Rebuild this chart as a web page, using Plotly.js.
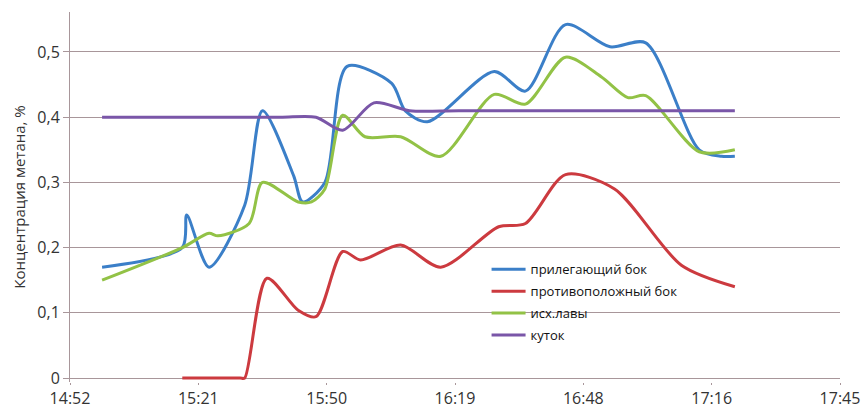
<!DOCTYPE html>
<html>
<head>
<meta charset="utf-8">
<script src="https://cdn.plot.ly/plotly-3.0.1.min.js"></script>
<style>html,body{margin:0;padding:0;background:#fff;}#chart{width:864px;height:409px;}</style>
</head>
<body>
<div id="chart"></div>
<script>
// Series names
const seriesNames = ['прилегающий бок', 'противоположный бок', 'исх.лавы', 'куток'];

// прилегающий бок
const adjTimes = ['15:00','15:18','15:19','15:24','15:32','15:36','15:43','15:45','15:50','15:55','16:05','16:08','16:13','16:28','16:35','16:44','16:54','17:02','17:14','17:19','17:22'];
const adjValues = [0.17,0.20,0.25,0.17,0.265,0.41,0.31,0.27,0.30,0.478,0.452,0.41,0.393,0.47,0.44,0.542,0.508,0.514,0.35,0.34,0.34];

// противоположный бок
const oppTimes = ['15:18','15:24','15:31','15:32','15:37','15:44','15:48','15:54','15:58','16:07','16:16','16:29','16:35','16:44','16:55','17:10','17:22'];
const oppValues = [0,0,0,0,0.153,0.104,0.094,0.194,0.181,0.204,0.17,0.232,0.237,0.312,0.29,0.173,0.14];

// исх.лавы
const outTimes = ['15:00','15:18','15:24','15:26','15:33','15:36','15:44','15:47','15:50','15:54','15:59','16:07','16:16','16:28','16:35','16:44','16:52','16:58','17:02','17:14','17:22'];
const outValues = [0.15,0.20,0.222,0.218,0.237,0.30,0.27,0.27,0.29,0.403,0.37,0.37,0.34,0.435,0.42,0.492,0.462,0.43,0.433,0.347,0.35];

// куток
const cornerTimes = ['15:00','15:20','15:40','15:48','15:54','16:01','16:09','16:20','16:50','17:22'];
const cornerValues = [0.40,0.40,0.40,0.40,0.38,0.422,0.41,0.41,0.41,0.41];

// Axis ticks
const xTickLabels = ['14:52','15:21','15:50','16:19','16:48','17:16','17:45'];
const xTickDays = [0.62,0.64,0.66,0.68,0.70,0.72,0.74];
const yTickVals = [0,0.1,0.2,0.3,0.4,0.5];
const yTickLabels = ['0','0,1','0,2','0,3','0,4','0,5'];

const colors = ['#3b7fc8','#cc3a3f','#92c246','#7a56a8'];

function toMin(s){const p=s.split(':');return (+p[0])*60+(+p[1]);}

const allTimes=[adjTimes,oppTimes,outTimes,cornerTimes];
const allVals=[adjValues,oppValues,outValues,cornerValues];
const traces = seriesNames.map((n,i)=>({
  x: allTimes[i].map(toMin), y: allVals[i], name: n, type:'scatter', mode:'lines',
  legendgroup:'g'+i,
  line:{color:colors[i], width:3, shape:'spline', smoothing:0.8}
}));

const gridCol = '#a8969a';
const layout = {
  width:864, height:409,
  margin:{l:70, r:24, t:12, b:27},
  paper_bgcolor:'#fff', plot_bgcolor:'#fff',
  font:{family:'Open Sans, sans-serif', color:'#333'},
  showlegend:true,
  legend:{x:0.541, y:0.345, xanchor:'left', yanchor:'top', bgcolor:'rgba(0,0,0,0)',
    font:{size:13, color:'#111'}, tracegroupgap:2, itemwidth:34},
  xaxis:{range:[0.62*1440, 0.74*1440], tickvals:xTickDays.map(d=>d*1440), ticktext:xTickLabels,
    showgrid:false, zeroline:false, showline:false,
    ticks:'outside', ticklen:2, tickcolor:gridCol, tickfont:{size:16, color:'#333'}},
  yaxis:{range:[-0.0061,0.5613], tickvals:yTickVals, ticktext:yTickLabels,
    showgrid:true, gridcolor:gridCol, gridwidth:1, zeroline:true, zerolinecolor:gridCol, zerolinewidth:1,
    showline:true, linecolor:gridCol,
    ticks:'outside', ticklen:6, tickcolor:gridCol, tickfont:{size:16, color:'#333'},
    title:{text:'Концентрация метана, %', font:{size:15, color:'#333'}, standoff:8}}
};
Plotly.newPlot('chart', traces, layout, {staticPlot:true, displayModeBar:false});
</script>
</body>
</html>
